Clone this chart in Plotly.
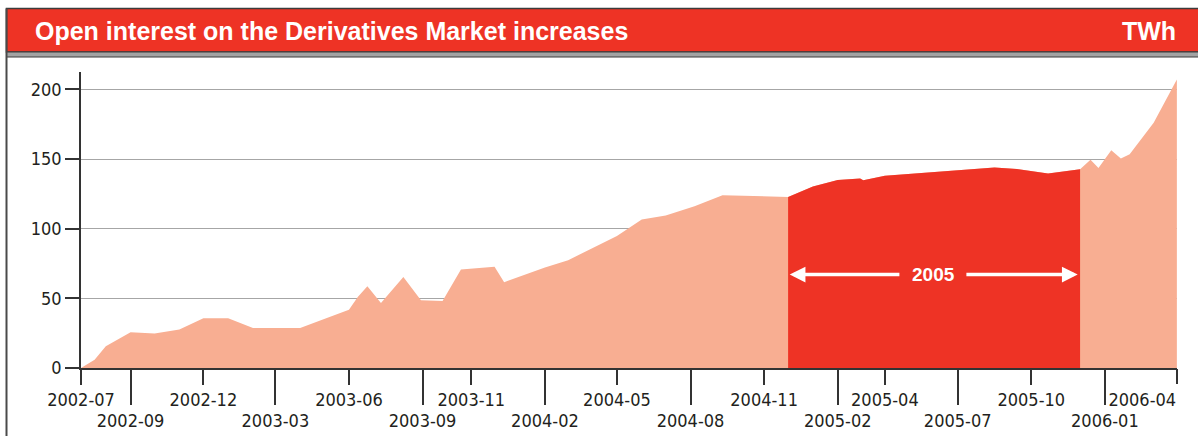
import plotly.graph_objects as go

# Open interest (TWh) on the derivatives market
dates = [
    "2002-07-01", "2002-07-18", "2002-08-01", "2002-09-01", "2002-10-01",
    "2002-11-01", "2002-12-01", "2003-01-01", "2003-02-01", "2003-03-01",
    "2003-04-01", "2003-05-01", "2003-06-01", "2003-06-12", "2003-06-24",
    "2003-07-11", "2003-08-08", "2003-08-30", "2003-09-26", "2003-10-19",
    "2003-11-30", "2003-12-12", "2004-02-01", "2004-03-01", "2004-05-01",
    "2004-06-01", "2004-07-01", "2004-08-06", "2004-09-10", "2004-12-01",
    "2005-01-01", "2005-02-01", "2005-02-19", "2005-03-01", "2005-03-05",
    "2005-04-01", "2005-08-16", "2005-09-13", "2005-10-22", "2005-12-01",
    "2005-12-14", "2005-12-24", "2006-01-09", "2006-01-21", "2006-02-01",
    "2006-03-03", "2006-04-01",
]
open_interest = [
    0.0, 6.0, 15.6, 25.6, 24.7,
    27.6, 35.7, 35.7, 28.7, 28.7,
    28.7, 35.2, 41.9, 51.0, 58.7,
    46.7, 65.4, 48.6, 48.1, 70.7,
    72.6, 61.6, 72.1, 77.4, 94.8,
    106.6, 109.5, 116.2, 124.1, 122.8,
    130.3, 135.0, 135.6, 136.0, 134.8,
    138.0, 144.0, 142.8, 139.6, 142.6,
    149.5, 143.5, 156.4, 150.4, 153.5,
    176.0, 207.2,
]

# Highlighted period
period_start, period_end = "2004-12-01", "2005-12-01"
period_label = "2005"

# Tick labels, split over two rows; the final one sits left of its tick
top_ticks = ["2002-07", "2002-12", "2003-06", "2003-11", "2004-05",
             "2004-11", "2005-04", "2005-10"]
last_tick = ["2006-04"]
bottom_ticks = ["2002-09", "2003-03", "2003-09", "2004-02", "2004-08",
                "2005-02", "2005-07", "2006-01"]
y_ticks = [0, 50, 100, 150, 200]

title_text = "Open interest on the Derivatives Market increases"
unit_text = "TWh"

PINK = "#F8AE92"
RED = "#EE3325"
INK = "#231F20"
TICK_FONT = dict(family="DejaVu Sans Condensed, Roboto, sans-serif", size=18, color=INK)
HEAD_FONT = "Liberation Sans, Arial, sans-serif"

W, H = 1198, 436
ML, MR, MT, MB = 81, 21, 72, 68
PW, PH = W - ML - MR, H - MT - MB


def px_x(p):
    return (p - ML) / PW


def px_y(p):
    return (H - MB - p) / PH


sel = [i for i, d in enumerate(dates) if period_start <= d <= period_end]
red_dates = [dates[i] for i in sel]
red_vals = [open_interest[i] for i in sel]

fig = go.Figure()
fig.add_trace(go.Scatter(x=dates, y=open_interest, mode="lines", fill="tozeroy",
                         fillcolor=PINK, line=dict(width=0, color=PINK),
                         hoverinfo="skip", showlegend=False))
fig.add_trace(go.Scatter(x=red_dates, y=red_vals, mode="lines", fill="tozeroy",
                         fillcolor=RED, line=dict(width=0, color=RED),
                         xaxis="x2", hoverinfo="skip", showlegend=False))
# the end point alone, so the axis carrying the last tick gets drawn
fig.add_trace(go.Scatter(x=dates[-1:], y=open_interest[-1:], mode="lines",
                         line=dict(width=0, color=PINK), xaxis="x3",
                         hoverinfo="skip", showlegend=False))

# a few hours of slack on the right keeps the last tick inside the range
x_range = [dates[0], dates[-1] + " 04:00"]
axis_common = dict(type="date", range=x_range, showgrid=False, zeroline=False,
                   ticks="outside", tickcolor="#333333", tickwidth=1.5,
                   tickfont=TICK_FONT, fixedrange=True, automargin=False)

fig.update_layout(
    width=W, height=H, margin=dict(l=ML, r=MR, t=MT, b=MB, autoexpand=False),
    paper_bgcolor="white", plot_bgcolor="white",
    xaxis=dict(**axis_common, tickvals=top_ticks, ticktext=top_ticks, ticklen=15,
               showline=True, linecolor="#333333", linewidth=1.5),
    xaxis2=dict(**axis_common, tickvals=bottom_ticks, ticktext=bottom_ticks, ticklen=36,
                overlaying="x", anchor="y", side="bottom", showline=False),
    xaxis3=dict(**axis_common, tickvals=last_tick, ticktext=last_tick, ticklen=15,
                overlaying="x", anchor="y", side="bottom", showline=False,
                ticklabelposition="outside left", ticklabelstandoff=15),
    yaxis=dict(range=[0, 212.5], tickvals=y_ticks, showgrid=True, gridcolor="#A6A6A6",
               gridwidth=1, zeroline=False, showline=True, linecolor="#333333",
               linewidth=1.5, ticks="outside", ticklen=14, tickcolor="#333333",
               tickwidth=1.5, tickfont=TICK_FONT, fixedrange=True, automargin=False),
    shapes=[
        # header band
        dict(type="rect", xref="paper", yref="paper", x0=px_x(6.5), x1=px_x(1200),
             y0=px_y(52), y1=px_y(8.5), fillcolor=RED, line=dict(color="#3C3C3C", width=1.5),
             layer="above"),
        dict(type="rect", xref="paper", yref="paper", x0=px_x(6.5), x1=px_x(1200),
             y0=px_y(57), y1=px_y(52), fillcolor="#A3A3A3", line=dict(color="#3C3C3C", width=1),
             layer="above"),
        # frame edge on the left
        dict(type="line", xref="paper", yref="paper", x0=px_x(6.5), x1=px_x(6.5),
             y0=px_y(440), y1=px_y(8.5), line=dict(color="#4A4A4A", width=2), layer="above"),
    ],
)

arrow_y = 67.1
annotations = [
    dict(text=f"<b>{title_text}</b>", xref="paper", yref="paper", x=px_x(33), y=px_y(31),
         xanchor="left", yanchor="middle", showarrow=False,
         font=dict(family=HEAD_FONT, size=25, color="white")),
    dict(text=f"<b>{unit_text}</b>", xref="paper", yref="paper", x=px_x(1178), y=px_y(31),
         xanchor="right", yanchor="middle", showarrow=False,
         font=dict(family=HEAD_FONT, size=25, color="white")),
    dict(text=f"<b>{period_label}</b>", x="2005-06-01", y=arrow_y, xref="x", yref="y",
         showarrow=False, xanchor="center", yanchor="middle",
         font=dict(family=HEAD_FONT, size=19, color="white")),
    dict(text="", x="2004-12-03", y=arrow_y, ax="2005-04-21", ay=arrow_y,
         xref="x", yref="y", axref="x", ayref="y", showarrow=True,
         arrowhead=2, arrowsize=0.9, arrowwidth=3.5, arrowcolor="white", standoff=0),
    dict(text="", x="2005-11-28", y=arrow_y, ax="2005-07-10", ay=arrow_y,
         xref="x", yref="y", axref="x", ayref="y", showarrow=True,
         arrowhead=2, arrowsize=0.9, arrowwidth=3.5, arrowcolor="white", standoff=0),
]
fig.update_layout(annotations=annotations)

fig.write_html("out.html")
